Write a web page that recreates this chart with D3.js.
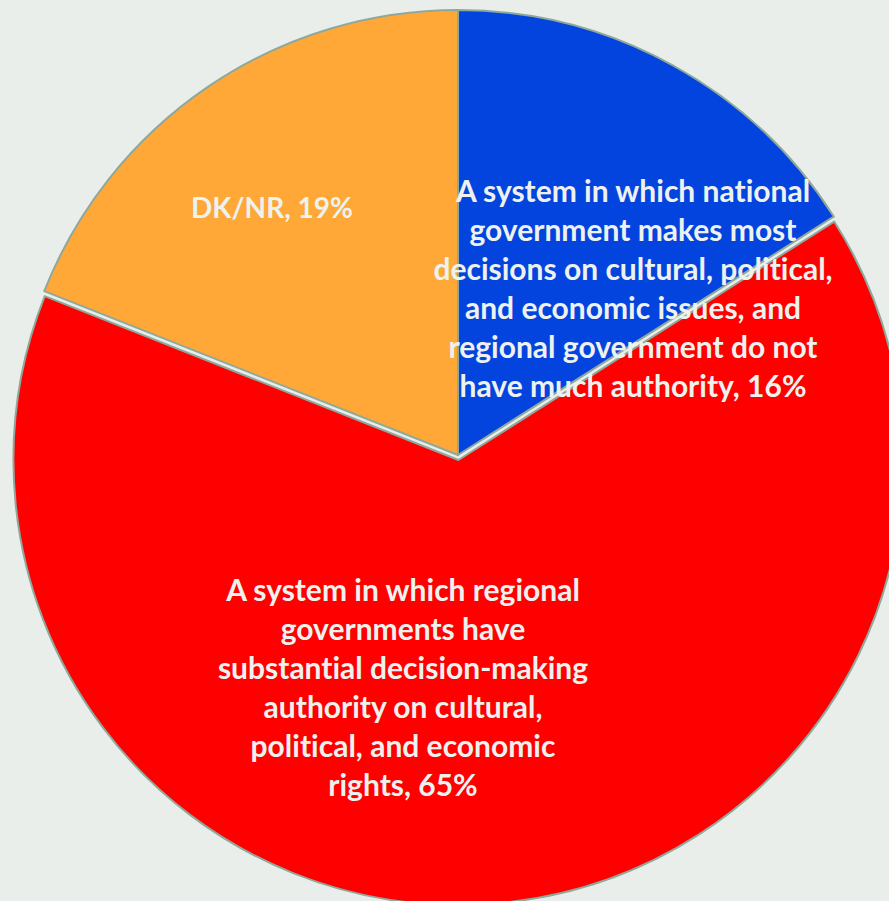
<!DOCTYPE html>
<html><head><meta charset="utf-8">
<script src="https://cdn.jsdelivr.net/npm/d3@7"></script>
<style>
html,body{margin:0;padding:0;background:#E9EEEA;}
svg{display:block;}
text{font-variant-ligatures:none;font-feature-settings:"liga" 0;}
</style></head>
<body>
<script>
const categories = [
  "A system in which national government makes most decisions on cultural, political, and economic issues, and regional government do not have much authority",
  "A system in which regional governments have substantial decision-making authority on cultural, political, and economic rights",
  "DK/NR"
];
const values = [16, 65, 19];
const colors = ["#0444DE", "#FF0000", "#FFA838"];
const labelLines = [
  ["A system in which national", "government makes most", "decisions on cultural, political,", "and economic issues, and", "regional government do not", "have much authority, 16%"],
  ["A system in which regional", "governments have", "substantial decision-making", "authority on cultural,", "political, and economic", "rights, 65%"],
  ["DK/NR, 19%"]
];

// layout
const W = 889, H = 901;
const cx = 458, cy = 455, R = 445;
const explode = [0, 5, 0];
const labelCenter = [[175, -253], [-55, 146], [-186, -237]]; // x offset, first baseline offset from pie center
const labelSize = [30, 30, 28];
const lineH = 39;

const svg = d3.select("body").append("svg").attr("width", W).attr("height", H);
svg.append("rect").attr("width", W).attr("height", H).attr("fill", "#E9EEEA");

const pie = d3.pie().sort(null).value(d => d)(values);
const arc = d3.arc().innerRadius(0).outerRadius(R);

const g = svg.append("g").attr("transform", `translate(${cx},${cy})`);

const slices = g.selectAll("g.slice").data(pie).enter().append("g")
  .attr("class", "slice")
  .attr("transform", (d, i) => {
    const a = (d.startAngle + d.endAngle) / 2;
    return `translate(${Math.sin(a) * explode[i]},${-Math.cos(a) * explode[i]})`;
  });

slices.append("path")
  .attr("d", arc)
  .attr("fill", (d, i) => colors[i])
  .attr("stroke", "#8FA89C")
  .attr("stroke-width", 2)
  .attr("stroke-linejoin", "round");

const labels = g.selectAll("text.lbl").data(pie).enter().append("text")
  .attr("class", "lbl")
  .attr("text-anchor", "middle")
  .attr("font-family", "Lato, 'Open Sans', sans-serif")
  .attr("font-weight", "bold")
  .attr("font-size", (d, i) => labelSize[i])
  .attr("fill", "#EEF2EE");

labels.each(function(d, i) {
  const t = d3.select(this);
  labelLines[i].forEach((ln, k) => {
    t.append("tspan")
      .attr("x", labelCenter[i][0])
      .attr("y", labelCenter[i][1] + k * lineH)
      .text(ln);
  });
});
</script>
</body></html>
